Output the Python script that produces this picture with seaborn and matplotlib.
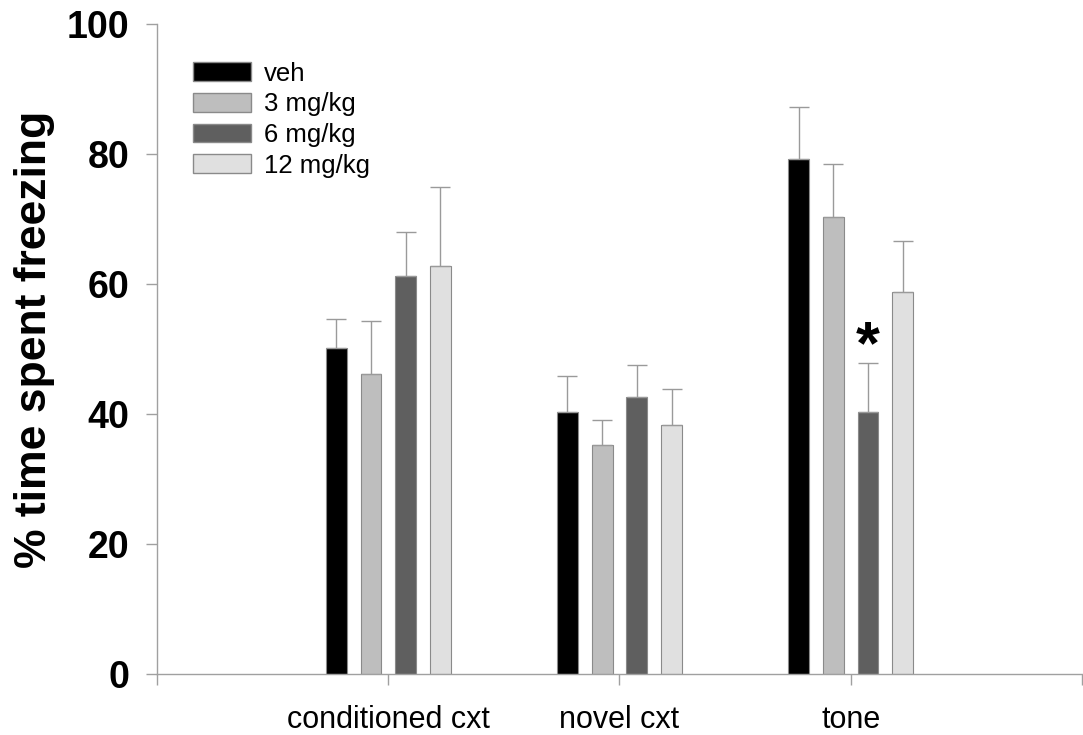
import pandas as pd
import matplotlib.pyplot as plt
import seaborn as sns
from matplotlib.patches import Patch

conditions = ['conditioned cxt', 'novel cxt', 'tone']
doses = ['veh', '3 mg/kg', '6 mg/kg', '12 mg/kg']
veh = [50.1, 40.3, 79.2]
mg3 = [46.1, 35.2, 70.3]
mg6 = [61.3, 42.7, 40.3]
mg12 = [62.8, 38.3, 58.8]
veh_err = [4.6, 5.5, 8.0]
mg3_err = [8.3, 3.9, 8.2]
mg6_err = [6.7, 4.8, 7.5]
mg12_err = [12.1, 5.5, 7.8]
colors = ['#000000', '#bebebe', '#5f5f5f', '#e0e0e0']

rows = []
for d, vals, errs in zip(doses, [veh, mg3, mg6, mg12], [veh_err, mg3_err, mg6_err, mg12_err]):
    for c, v, e in zip(conditions, vals, errs):
        rows.append({'condition': c, 'dose': d, 'freezing': v, 'sem': e})
data = pd.DataFrame(rows)

sns.set_style('white')
plt.rcParams['font.family'] = ['Liberation Sans', 'DejaVu Sans']
plt.rcParams['text.color'] = 'black'
plt.rcParams['axes.labelcolor'] = 'black'

fig = plt.figure(figsize=(10.83, 7.35), dpi=100)
ax = fig.add_axes([0.145, 0.083, 0.854, 0.884])

sns.barplot(data=data, x='condition', y='freezing', hue='dose', order=conditions,
            hue_order=doses, palette=colors, width=0.6, gap=0.4, errorbar=None,
            edgecolor='#8a8a8a', linewidth=0.8, ax=ax, legend=False)

# upward-only error bars at each bar centre
for bars, d in zip(ax.containers, doses):
    sub = data[data['dose'] == d].set_index('condition').loc[conditions]
    xs = [b.get_x() + b.get_width() / 2 for b in bars]
    ax.errorbar(xs, sub['freezing'], yerr=[[0] * 3, sub['sem']], fmt='none',
                ecolor='#9a9a9a', elinewidth=1.0, capsize=7, capthick=1.0, zorder=1)

# significance marker above 6 mg/kg tone bar
b = ax.containers[2][2]
ax.text(b.get_x() + b.get_width() / 2, 50.2, '*', ha='center', va='center',
        fontsize=44, fontweight='bold', color='black')

ax.set_xlim(-1, 3)
ax.set_ylim(0, 100)
ax.set_xticks([-1, 0, 1, 2, 3])
ax.set_xticklabels(['', 'conditioned cxt', 'novel cxt', 'tone', ''], fontsize=22)
ax.set_yticks([0, 20, 40, 60, 80, 100])
ax.set_yticklabels(['0', '20', '40', '60', '80', '100'], fontsize=27, fontweight='bold')
ax.set_xlabel('')
ax.set_ylabel('% time spent freezing', fontsize=32, fontweight='bold', color='black')
ax.yaxis.set_label_coords(-0.110, 0.515)

for s in ['top', 'right']:
    ax.spines[s].set_visible(False)
for s in ['left', 'bottom']:
    ax.spines[s].set_color('#a0a0a0')
    ax.spines[s].set_linewidth(1.0)
ax.tick_params(axis='both', direction='out', length=8, width=1.0, color='#a0a0a0',
               labelcolor='black', bottom=True, left=True)
ax.tick_params(axis='x', pad=14)
ax.tick_params(axis='y', pad=12)

handles = [Patch(facecolor=c, edgecolor='#8a8a8a', label=d) for c, d in zip(colors, doses)]
leg = ax.legend(handles=handles, loc='upper left', bbox_to_anchor=(0.014, 0.978), frameon=False,
                fontsize=18.5, handlelength=2.25, handleheight=0.75, labelspacing=0.26,
                handletextpad=0.5)
for t in leg.get_texts():
    t.set_color('black')

fig.savefig('out.png', dpi=100)
